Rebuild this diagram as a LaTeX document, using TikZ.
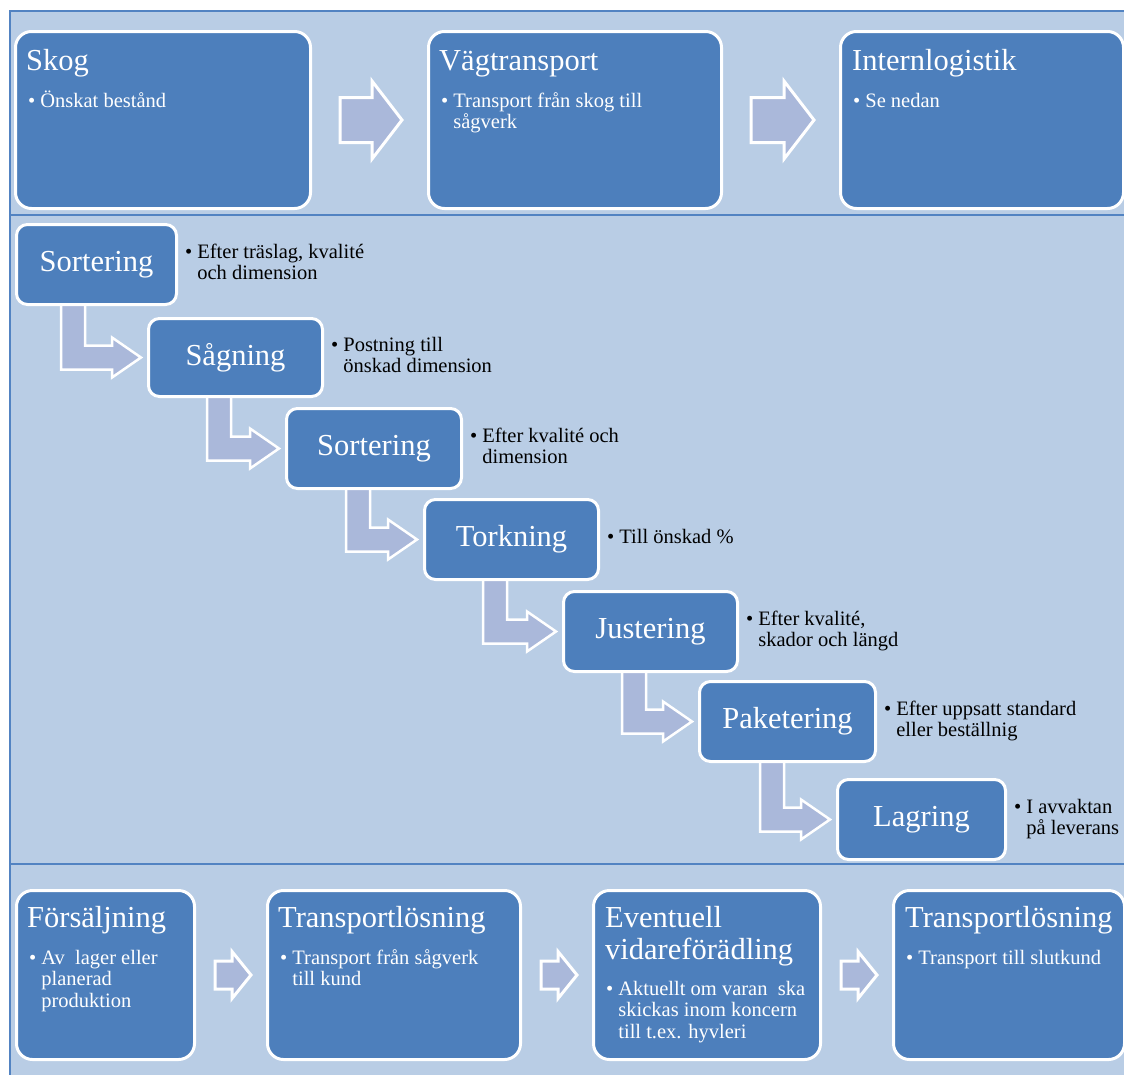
\documentclass[tikz,border=0pt]{standalone}
\usepackage{fontspec}
\setmainfont{Liberation Serif}
\usetikzlibrary{calc}
\definecolor{panelbg}{HTML}{B9CDE5}
\definecolor{panelline}{HTML}{5283C2}
\definecolor{boxblue}{HTML}{4D7FBC}
\definecolor{arrowfill}{HTML}{AAB8DA}
\pgfdeclarelayer{bglayer}
\pgfdeclarelayer{arrlayer}
\pgfsetlayers{bglayer,arrlayer,main}
\newcommand\titlefont{\fontsize{30.5}{32}\selectfont}
\newcommand\bodyfont{\fontsize{20.5}{21.5}\selectfont}
\newcommand\blt[1]{\begin{tabular}[t]{@{}l@{\hspace{5pt}}l@{}}\textbullet & #1\end{tabular}}
% block arrow: from, to, start offset, head base offset, tip offset, shaft half, head half
\newcommand\blockarr[7]{%
  \draw[blockarrow] ($(#1.east)+(#3,-#6)$) -- ($(#2.west|-#1.east)+(-#4,-#6)$)
    -- ($(#2.west|-#1.east)+(-#4,-#7)$) -- ($(#2.west|-#1.east)+(-#5,0)$)
    -- ($(#2.west|-#1.east)+(-#4,#7)$) -- ($(#2.west|-#1.east)+(-#4,#6)$)
    -- ($(#1.east)+(#3,#6)$) -- cycle;}
% bent arrow from box #1 (down) to box #2 (right)
\newcommand\bentarr[2]{%
  \coordinate (#1v1) at ($(#1.south east)+(-117,-2)$);
  \coordinate (#1v2) at ($(#1.south east)+(-93,-2)$);
  \coordinate (#1h1) at ($(#2.west)+(-35,-12)$);
  \coordinate (#1h2) at ($(#2.west)+(-35,12)$);
  \coordinate (#1d1) at ($(#2.west)+(-35,-20)$);
  \coordinate (#1d2) at ($(#2.west)+(-35,20)$);
  \coordinate (#1tp) at ($(#2.west)+(-6,0)$);
  \draw[bentarrow] (#1v1) -- (#1v2) -- (#1v2 |- #1h1) -- (#1h1) -- (#1d1) -- (#1tp)
    -- (#1d2) -- (#1h2) -- (#1v1 |- #1h2) -- cycle;}
\tikzset{
  panel/.style={fill=panelbg, draw=panelline, line width=2pt},
  bigbox/.style={rectangle, rounded corners=16pt, fill=boxblue, draw=white, line width=3pt, anchor=north west},
  stepbox/.style={rectangle, rounded corners=11pt, fill=boxblue, draw=white, line width=3pt, anchor=north west, text=white, font=\titlefont, inner sep=0pt},
  boxtitle/.style={anchor=base west, inner sep=0pt, text=white, font=\titlefont},
  boxbullet/.style={anchor=base west, inner sep=0pt, text=white, font=\bodyfont},
  sidetext/.style={anchor=west, inner sep=0pt, text=black, font=\bodyfont},
  blockarrow/.style={fill=arrowfill, draw=white, line width=3pt, line join=miter},
  bentarrow/.style={fill=arrowfill, draw=white, line width=2.5pt, line join=miter}
}
\begin{document}
\begin{tikzpicture}[x=1pt, y=-1pt]
\useasboundingbox (0,0) rectangle (1124,1074);
\clip (0,0) rectangle (1124,1074);
\begin{pgfonlayer}{bglayer}
  \fill[white] (0,0) rectangle (1124,1074);
  \draw[panel] (10,11) rectangle (1140,215);
  \draw[panel] (10,215) rectangle (1140,864);
  \draw[panel] (10,864) rectangle (1140,1090);
\end{pgfonlayer}

% ---- top row
\node[bigbox, minimum width=295pt, minimum height=177pt] (skog) at (14,30) {};
\node[bigbox, minimum width=293pt, minimum height=177pt] (vag) at (427,30) {};
\node[bigbox, minimum width=283pt, minimum height=177pt] (intern) at (839,30) {};
\node[boxtitle] (skogT) at ($(skog.north west)+(12,40)$) {Skog};
\node[boxbullet] (skogB) at ($(skog.north west)+(14,77)$) {\blt{Önskat bestånd}};
\node[boxtitle] (vagT) at ($(vag.north west)+(12,40)$) {Vägtransport};
\node[boxbullet] (vagB) at ($(vag.north west)+(14,77)$) {\blt{Transport från skog till\\ & sågverk}};
\node[boxtitle] (internT) at ($(intern.north west)+(13,40)$) {Internlogistik};
\node[boxbullet] (internB) at ($(intern.north west)+(14,77)$) {\blt{Se nedan}};

% ---- middle staircase
\node[stepbox, minimum width=160pt, minimum height=80pt] (s1) at (15,223) {Sortering};
\node[stepbox, minimum width=174pt, minimum height=78pt] (s2) at (147,317) {Sågning};
\node[stepbox, minimum width=175pt, minimum height=80pt] (s3) at (285,407) {Sortering};
\node[stepbox, minimum width=174pt, minimum height=80pt] (s4) at (423,498) {Torkning};
\node[stepbox, minimum width=174pt, minimum height=80pt] (s5) at (562,590) {Justering};
\node[stepbox, minimum width=176pt, minimum height=80pt] (s6) at (698,680) {Paketering};
\node[stepbox, minimum width=168pt, minimum height=80pt] (s7) at (836,778) {Lagring};

\node[sidetext] (s1d) at ($(s1.east)+(7,0)$) {\blt{Efter träslag, kvalité\\ & och dimension}};
\node[sidetext] (s2d) at ($(s2.east)+(7,0)$) {\blt{Postning till\\ & önskad dimension}};
\node[sidetext] (s3d) at ($(s3.east)+(7,0)$) {\blt{Efter kvalité och\\ & dimension}};
\node[sidetext] (s4d) at ($(s4.east)+(7,0)$) {\blt{Till önskad \%}};
\node[sidetext] (s5d) at ($(s5.east)+(7,0)$) {\blt{Efter kvalité,\\ & skador och längd}};
\node[sidetext] (s6d) at ($(s6.east)+(7,0)$) {\blt{Efter uppsatt standard\\ & eller beställnig}};
\node[sidetext] (s7d) at ($(s7.east)+(7,0)$) {\blt{I avvaktan\\ & på leverans}};

% ---- bottom row
\node[bigbox, minimum width=178pt, minimum height=169pt] (fors) at (15,889) {};
\node[bigbox, minimum width=253pt, minimum height=169pt] (trans1) at (266,889) {};
\node[bigbox, minimum width=227pt, minimum height=169pt] (event) at (592,889) {};
\node[bigbox, minimum width=231pt, minimum height=169pt] (trans2) at (892,889) {};
\node[boxtitle] (forsT) at ($(fors.north west)+(12,38)$) {Försäljning};
\node[boxbullet] (forsB) at ($(fors.north west)+(14,75)$) {\blt{Av\ \ lager eller\\ & planerad\\ & produktion}};
\node[boxtitle] (trans1T) at ($(trans1.north west)+(12,38)$) {Transportlösning};
\node[boxbullet] (trans1B) at ($(trans1.north west)+(14,75)$) {\blt{Transport från sågverk\\ & till kund}};
\node[boxtitle] (eventT) at ($(event.north west)+(13,38)$) {\begin{tabular}[t]{@{}l@{}}Eventuell\\vidareförädling\end{tabular}};
\node[boxbullet] (eventB) at ($(event.north west)+(14,106)$) {\blt{Aktuellt om varan\ \ ska\\ & skickas inom koncern\\ & till t.ex. hyvleri}};
\node[boxtitle] (trans2T) at ($(trans2.north west)+(13,38)$) {Transportlösning};
\node[boxbullet] (trans2B) at ($(trans2.north west)+(14,75)$) {\blt{Transport till slutkund}};

% ---- arrows
\begin{pgfonlayer}{arrlayer}
  \blockarr{skog}{vag}{28}{55}{25}{22.5}{39}
  \blockarr{vag}{intern}{28}{55}{25}{22.5}{39}
  \blockarr{fors}{trans1}{19}{34}{15}{14}{23.5}
  \blockarr{trans1}{event}{19}{34}{15}{14}{23.5}
  \blockarr{event}{trans2}{19}{34}{15}{14}{23.5}
  \bentarr{s1}{s2}
  \bentarr{s2}{s3}
  \bentarr{s3}{s4}
  \bentarr{s4}{s5}
  \bentarr{s5}{s6}
  \bentarr{s6}{s7}
\end{pgfonlayer}
\end{tikzpicture}
\end{document}
